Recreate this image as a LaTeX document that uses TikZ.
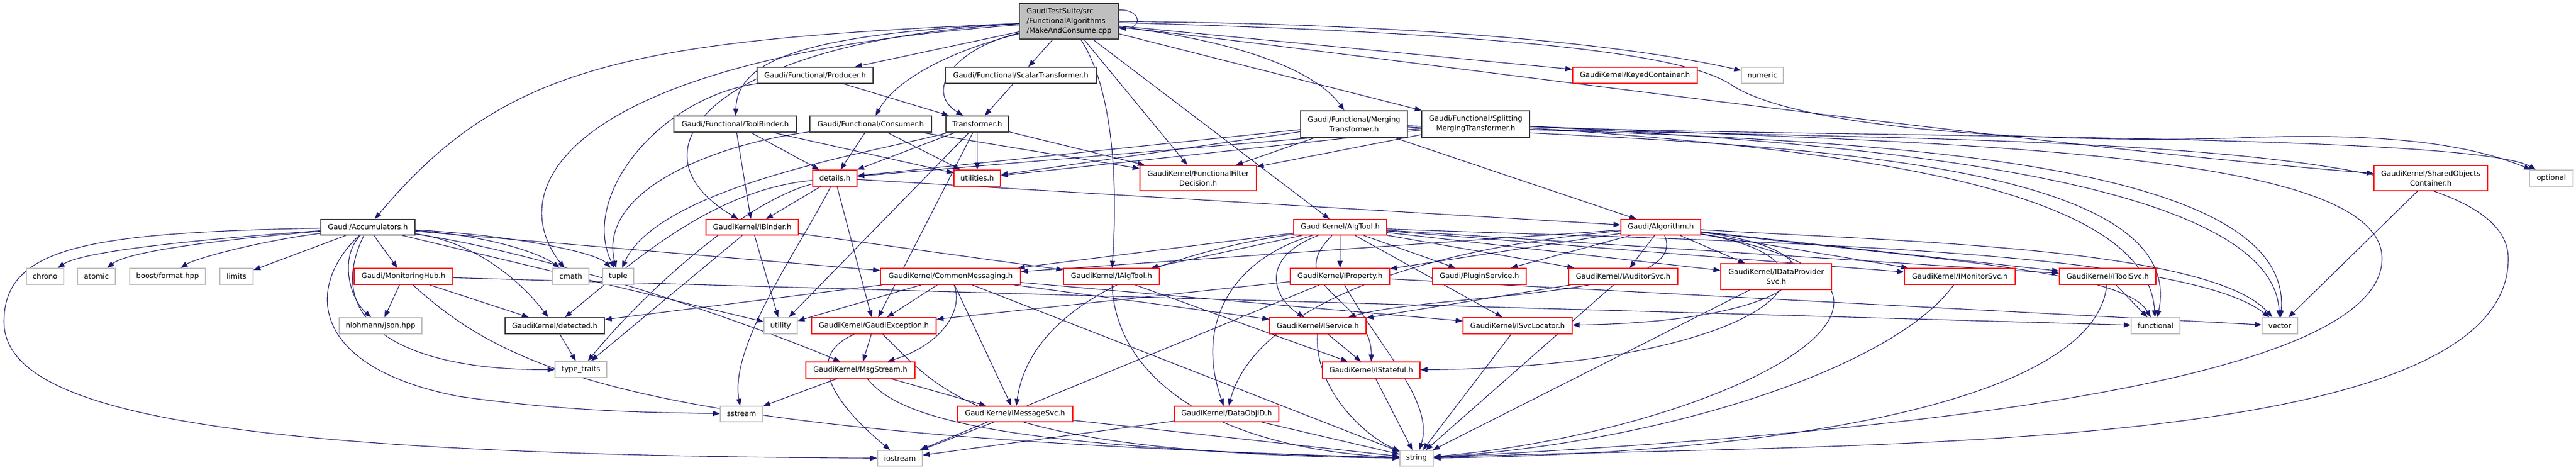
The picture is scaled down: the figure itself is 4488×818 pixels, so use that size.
\documentclass[tikz,border=0pt]{standalone}
\usepackage{fontspec}
\setmainfont{DejaVu Sans}
\usetikzlibrary{arrows.meta}
\definecolor{edgec}{HTML}{191970}
\definecolor{redc}{HTML}{FF0000}
\definecolor{grayc}{HTML}{BFBFBF}
\definecolor{blackc}{HTML}{404040}
\definecolor{mainfill}{HTML}{BFBFBF}
\pgfdeclarelayer{back}
\pgfdeclarelayer{edges}
\pgfsetlayers{back,edges,main}
\newcommand\nd[7]{%
 \pgfmathsetmacro\ndw{#4-#2}\pgfmathsetmacro\ndh{#5-#3}%
 \pgfmathsetmacro\ndx{(#2+#4)/2}\pgfmathsetmacro\ndy{(#3+#5)/2}%
 \node[#6,minimum width=\ndw pt,minimum height=\ndh pt] (#1) at (\ndx,\ndy) {#7};}
\begin{document}
\begin{tikzpicture}[x=1pt,y=-1pt,
  base/.style={rectangle,inner sep=0pt,fill=white,line width=1.6pt,align=center,font=\fontsize{12.6}{17}\selectfont},
  blk/.style={base,draw=blackc},
  red/.style={base,draw=redc},
  gry/.style={base,draw=grayc},
  mainst/.style={base,draw=blackc,fill=mainfill,align=left},
  e/.style={draw=edgec,line width=1.1pt,-{Triangle[length=12pt,width=9pt]}}]
\begin{pgfonlayer}{back}
\fill[white] (0,0) rectangle (4488,818);
\end{pgfonlayer}
\useasboundingbox (0,0) rectangle (4488,818);
% nodes
\nd{main}{1776}{6}{1949}{68}{mainst}{GaudiTestSuite/src\\/FunctionalAlgorithms\\/MakeAndConsume.cpp}
\nd{prod}{1319}{117}{1521}{145}{blk}{Gaudi/Functional/Producer.h}
\nd{scal}{1647}{117}{1910}{145}{blk}{Gaudi/Functional/ScalarTransformer.h}
\nd{keyed}{2740}{117}{2957}{145}{red}{GaudiKernel/KeyedContainer.h}
\nd{numeric}{3034}{117}{3107}{145}{gry}{numeric}
\nd{toolb}{1174}{202}{1388}{230}{blk}{Gaudi/Functional/ToolBinder.h}
\nd{cons}{1411}{202}{1623}{230}{blk}{Gaudi/Functional/Consumer.h}
\nd{trans}{1648}{202}{1757}{230}{blk}{Transformer.h}
\nd{merg}{2266}{193}{2452}{239}{blk}{Gaudi/Functional/Merging\\Transformer.h}
\nd{split}{2477}{193}{2665}{239}{blk}{Gaudi/Functional/Splitting\\MergingTransformer.h}
\nd{details}{1416}{296}{1493}{324}{red}{details.h}
\nd{util}{1662}{296}{1743}{324}{red}{utilities.h}
\nd{ffd}{1986}{288}{2189}{332}{red}{GaudiKernel/FunctionalFilter\\Decision.h}
\nd{soc}{4136}{288}{4334}{332}{red}{GaudiKernel/SharedObjects\\Container.h}
\nd{optional}{4407}{296}{4483}{324}{gry}{optional}
\nd{accum}{559}{382}{723}{409}{blk}{Gaudi/Accumulators.h}
\nd{ibinder}{1230}{382}{1391}{409}{red}{GaudiKernel/IBinder.h}
\nd{algtool}{2254}{382}{2416}{409}{red}{GaudiKernel/AlgTool.h}
\nd{algo}{2824}{382}{2963}{409}{red}{Gaudi/Algorithm.h}
\nd{chrono}{46}{467}{111}{495}{gry}{chrono}
\nd{atomic}{135}{467}{201}{495}{gry}{atomic}
\nd{boost}{226}{467}{358}{495}{gry}{boost/format.hpp}
\nd{limits}{383}{467}{441}{495}{gry}{limits}
\nd{monhub}{617}{467}{789}{495}{red}{Gaudi/MonitoringHub.h}
\nd{cmath}{963}{467}{1026}{495}{gry}{cmath}
\nd{tuple}{1050}{467}{1104}{495}{gry}{tuple}
\nd{commsg}{1534}{467}{1778}{495}{red}{GaudiKernel/CommonMessaging.h}
\nd{ialgtool}{1853}{467}{2020}{495}{red}{GaudiKernel/IAlgTool.h}
\nd{iprop}{2248}{467}{2421}{495}{red}{GaudiKernel/IProperty.h}
\nd{plugin}{2496}{467}{2659}{495}{red}{Gaudi/PluginService.h}
\nd{iaud}{2733}{467}{2923}{495}{red}{GaudiKernel/IAuditorSvc.h}
\nd{idp}{2998}{459}{3191}{504}{red}{GaudiKernel/IDataProvider\\Svc.h}
\nd{imon}{3318}{467}{3511}{495}{red}{GaudiKernel/IMonitorSvc.h}
\nd{itool}{3588}{467}{3756}{495}{red}{GaudiKernel/IToolSvc.h}
\nd{json}{591}{553}{735}{581}{gry}{nlohmann/json.hpp}
\nd{detected}{880}{553}{1053}{581}{blk}{GaudiKernel/detected.h}
\nd{utility}{1331}{553}{1389}{581}{gry}{utility}
\nd{gexc}{1414}{553}{1631}{581}{red}{GaudiKernel/GaudiException.h}
\nd{isvc}{2212}{553}{2380}{581}{red}{GaudiKernel/IService.h}
\nd{isvcloc}{2549}{553}{2739}{581}{red}{GaudiKernel/ISvcLocator.h}
\nd{functional}{3713}{553}{3798}{581}{gry}{functional}
\nd{vector}{3941}{553}{4003}{581}{gry}{vector}
\nd{typetraits}{967}{629}{1057}{657}{gry}{type\_traits}
\nd{msgstream}{1404}{630}{1594}{658}{red}{GaudiKernel/MsgStream.h}
\nd{istateful}{2304}{630}{2474}{658}{red}{GaudiKernel/IStateful.h}
\nd{sstream}{1255}{707}{1329}{734}{gry}{sstream}
\nd{imsgsvc}{1668}{707}{1869}{734}{red}{GaudiKernel/IMessageSvc.h}
\nd{dataobjid}{2046}{707}{2228}{734}{red}{GaudiKernel/DataObjID.h}
\nd{iostream}{1529}{784}{1607}{811}{gry}{iostream}
\nd{string}{2439}{784}{2497}{811}{gry}{string}
\begin{pgfonlayer}{edges}
% edges from main
\draw[e] ([yshift=-12pt]main.north east) .. controls +(40,0) and +(40,0) .. ([yshift=-44pt]main.north east);
\draw[e] (main) .. controls (1100,70) and (880,110) .. (accum);
\draw[e] (main) .. controls (1000,100) and (870,320) .. (cmath);
\draw[e] (main) .. controls (1250,70) and (1080,260) .. (ibinder);
\draw[e] (main) .. controls (1380,60) and (1285,110) .. (toolb);
\draw[e] (main) -- (prod);
\draw[e] (main) .. controls (1650,90) and (1560,140) .. (cons);
\draw[e] (main) .. controls (1660,85) and (1610,160) .. (trans);
\draw[e] (main) -- (scal);
\draw[e] (main) .. controls (1955,180) and (1942,400) .. (ialgtool);
\draw[e] (main) -- (ffd);
\draw[e] (main) -- (algtool);
\draw[e] (main) .. controls (2150,70) and (2290,120) .. (merg);
\draw[e] (main) -- (split);
\draw[e] (main) -- (keyed);
\draw[e] (main) .. controls (2400,40) and (2800,70) .. (numeric);
\draw[e] (main) .. controls (2700,60) and (2950,100) .. (3020,150) .. controls (3150,230) and (3600,250) .. (3900,240) .. controls (4150,230) and (4300,250) .. (optional);
\draw[e] (main) .. controls (2500,110) and (3500,250) .. (soc);
% producer, scalar, toolbinder, consumer, transformer
\draw[e] (prod) -- (trans);
\draw[e] (prod) .. controls (1150,170) and (1010,340) .. (tuple);
\draw[e] (scal) -- (trans);
\draw[e] (toolb) -- (details);
\draw[e] (toolb) -- (util);
\draw[e] (toolb) -- (ibinder);
\draw[e] (cons) -- (details);
\draw[e] (cons) -- (util);
\draw[e] (cons) -- (ffd);
\draw[e] (cons) .. controls (1250,250) and (1040,330) .. (tuple);
\draw[e] (trans) -- (details);
\draw[e] (trans) -- (util);
\draw[e] (trans) -- (ffd);
\draw[e] (trans) .. controls (1550,260) and (1150,320) .. (tuple);
\draw[e] (trans) -- (gexc);
\draw[e] (trans) -- (utility);
% merging / splitting
\draw[e] (merg) -- (details);
\draw[e] (merg) -- (util);
\draw[e] (merg) -- (ffd);
\draw[e] (merg) -- (algo);
\draw[e] (merg) .. controls (3000,250) and (3820,260) .. (functional);
\draw[e] (merg) .. controls (3100,240) and (4000,250) .. (vector);
\draw[e] (merg) .. controls (3400,250) and (4370,220) .. (4370,450) .. controls (4370,800) and (3200,770) .. (string);
\draw[e] (split) -- (details);
\draw[e] (split) -- (util);
\draw[e] (split) -- (ffd);
\draw[e] (split) .. controls (3200,260) and (3740,320) .. (functional);
\draw[e] (split) .. controls (3300,250) and (3960,320) .. (vector);
\draw[e] (split) .. controls (3100,240) and (4300,230) .. (optional);
\draw[e] (split) .. controls (3400,250) and (4150,260) .. (4150,450) .. controls (4150,680) and (3200,760) .. (string);
% details, soc
\draw[e] (details) -- (ibinder);
\draw[e] (details) -- (gexc);
\draw[e] (details) -- (algo);
\draw[e] (details) .. controls (1400,420) and (1270,600) .. (sstream);
\draw[e] (details) .. controls (1250,330) and (1120,440) .. (detected);
\draw[e] (details) .. controls (1300,350) and (1130,500) .. (typetraits);
\draw[e] (soc) -- (vector);
% accumulators
\draw[e] (accum) .. controls (300,420) and (140,440) .. (chrono);
\draw[e] (accum) .. controls (350,420) and (220,440) .. (atomic);
\draw[e] (accum) .. controls (450,420) and (340,450) .. (boost);
\draw[e] (accum) -- (limits);
\draw[e] (accum) -- (monhub);
\draw[e] (accum) .. controls (590,450) and (610,520) .. (json);
\draw[e] (accum) .. controls (560,560) and (700,645) .. (typetraits);
\draw[e] (accum) .. controls (820,420) and (900,480) .. (detected);
\draw[e] (accum) .. controls (850,410) and (940,440) .. (cmath);
\draw[e] (accum) .. controls (900,410) and (1040,440) .. (tuple);
\draw[e] (accum) -- (commsg);
\draw[e] (accum) -- (utility);
\draw[e] (accum) .. controls (950,440) and (1300,560) .. (msgstream);
\draw[e] (accum) .. controls (530,500) and (540,640) .. (800,690) .. controls (1000,718) and (1150,718) .. (sstream);
\draw[e] (accum) .. controls (150,405) and (7,430) .. (7,560) .. controls (7,720) and (400,792) .. (iostream);
% monitoring hub, ibinder
\draw[e] (monhub) -- (json);
\draw[e] (monhub) -- (detected);
\draw[e] (monhub) .. controls (900,660) and (1150,760) .. (string);
\draw[e] (monhub) -- (functional);
\draw[e] (ibinder) -- (utility);
\draw[e] (ibinder) -- (typetraits);
\draw[e] (ibinder) -- (ialgtool);
% algtool
\draw[e] (algtool) -- (iprop);
\draw[e] (algtool) -- (plugin);
\draw[e] (algtool) -- (iaud);
\draw[e] (algtool) -- (idp);
\draw[e] (algtool) -- (isvcloc);
\draw[e] (algtool) .. controls (2190,450) and (2220,520) .. (isvc);
\draw[e] (algtool) .. controls (2230,500) and (2390,520) .. (istateful);
\draw[e] (algtool) -- (ialgtool);
\draw[e] (algtool) -- (commsg);
\draw[e] (algtool) -- (imon);
\draw[e] (algtool) -- (itool);
\draw[e] (algtool) .. controls (2100,430) and (1800,500) .. (imsgsvc);
\draw[e] (algtool) .. controls (2150,450) and (2080,560) .. (dataobjid);
\draw[e] (algtool) .. controls (3000,420) and (3800,430) .. (vector);
% algorithm
\draw[e] (algo) -- (iprop);
\draw[e] (algo) -- (plugin);
\draw[e] (algo) -- (iaud);
\draw[e] (algo) -- (idp);
\draw[e] (algo) -- (imon);
\draw[e] (algo) -- (itool);
\draw[e] (algo) -- (commsg);
\draw[e] (algo) .. controls (2950,520) and (2500,510) .. (isvc);
\draw[e] (algo) .. controls (3250,440) and (3150,560) .. (isvcloc);
\draw[e] (algo) .. controls (3280,460) and (3050,640) .. (istateful);
\draw[e] (algo) .. controls (2400,440) and (2180,560) .. (dataobjid);
\draw[e] (algo) .. controls (3300,420) and (3850,430) .. (vector);
\draw[e] (algo) .. controls (3350,450) and (3700,470) .. (functional);
\draw[e] (algo) .. controls (3500,500) and (3000,750) .. (string);
% common messaging etc.
\draw[e] (commsg) -- (imsgsvc);
\draw[e] (commsg) .. controls (1680,540) and (1640,600) .. (msgstream);
\draw[e] (commsg) -- (gexc);
\draw[e] (commsg) -- (utility);
\draw[e] (commsg) -- (detected);
\draw[e] (commsg) -- (isvc);
\draw[e] (commsg) -- (isvcloc);
\draw[e] (commsg) -- (string);
\draw[e] (ialgtool) .. controls (1945,650) and (2100,780) .. (string);
\draw[e] (ialgtool) -- (istateful);
\draw[e] (iprop) -- (gexc);
\draw[e] (iprop) -- (iostream);
\draw[e] (iprop) .. controls (2400,600) and (2500,700) .. (string);
\draw[e] (iprop) -- (vector);
\draw[e] (iaud) -- (isvc);
\draw[e] (iaud) -- (string);
\draw[e] (idp) -- (string);
\draw[e] (imon) .. controls (3300,640) and (2900,770) .. (string);
\draw[e] (itool) -- (functional);
\draw[e] (itool) .. controls (3650,700) and (3100,790) .. (string);
\draw[e] (isvc) -- (istateful);
\draw[e] (isvc) .. controls (2290,680) and (2380,760) .. (string);
\draw[e] (isvcloc) -- (string);
\draw[e] (istateful) -- (string);
\draw[e] (dataobjid) -- (string);
\draw[e] (dataobjid) -- (iostream);
\draw[e] (msgstream) -- (sstream);
\draw[e] (msgstream) -- (imsgsvc);
\draw[e] (msgstream) .. controls (1560,720) and (1700,780) .. (string);
\draw[e] (gexc) -- (msgstream);
\draw[e] (gexc) .. controls (1400,620) and (1450,700) .. (iostream);
\draw[e] (gexc) .. controls (1640,680) and (1700,790) .. (string);
\draw[e] (imsgsvc) -- (iostream);
\draw[e] (imsgsvc) -- (string);
\draw[e] (detected) -- (typetraits);
\end{pgfonlayer}
\end{tikzpicture}
\end{document}
